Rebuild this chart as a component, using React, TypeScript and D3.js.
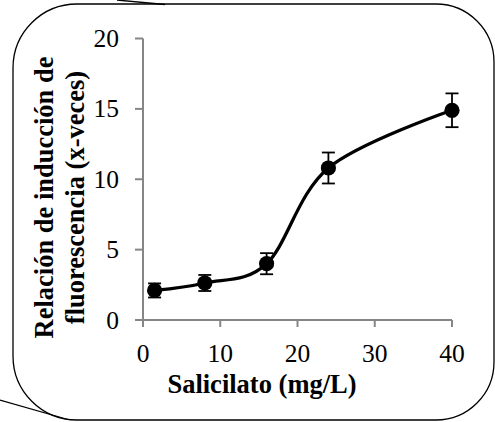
import React from "react";
import * as d3 from "d3";

const concentrations = [1.5, 8, 16, 24, 40];
const induction = [2.1, 2.63, 4.0, 10.8, 14.9];
const errors = [0.5, 0.57, 0.75, 1.1, 1.2];
const xTicks = [0, 10, 20, 30, 40];
const yTicks = [0, 5, 10, 15, 20];
const xTitle = "Salicilato (mg/L)";
const yTitleLines = ["Relación de inducción de", "fluorescencia (x-veces)"];

const W = 495;
const H = 422;

export default function App() {
  const x = d3.scaleLinear().domain([0, 40]).range([143, 452]);
  const y = d3.scaleLinear().domain([0, 20]).range([320, 38.5]);
  const pts = concentrations.map((c, i) => ({ c, v: induction[i], e: errors[i] }));
  const line = d3
    .line<{ c: number; v: number }>()
    .x((d) => x(d.c))
    .y((d) => y(d.v))
    .curve(d3.curveCatmullRom.alpha(0));

  const axisColor = "#868686";
  const font = "'Liberation Serif', 'Times New Roman', serif";

  // border path (rounded rect)
  const L = 13, T = 4, R = 494, B = 420;
  const rl = 64, rr = 58;
  const border = `M ${L + rl} ${T} L ${R - rr} ${T} A ${rr} ${rr} 0 0 1 ${R} ${T + rr} L ${R} ${B - rr} A ${rr} ${rr} 0 0 1 ${R - rr} ${B} L ${L + rl} ${B} A ${rl} ${rl} 0 0 1 ${L} ${B - rl} L ${L} ${T + rl} A ${rl} ${rl} 0 0 1 ${L + rl} ${T} Z`;

  return (
    <svg
      width={W}
      height={H}
      style={{ position: "absolute", left: 0, top: 0, background: "#fff" }}
    >
      <rect x={0} y={0} width={W} height={H} fill="#fff" />
      <path d={border} fill="none" stroke="#000" strokeWidth={1.3} />
      <line x1={117} y1={0} x2={165} y2={4.5} stroke="#000" strokeWidth={1.3} />
      <line x1={0} y1={400} x2={68} y2={419.5} stroke="#000" strokeWidth={1.3} />

      {/* axes */}
      <line x1={x(0)} y1={y(0)} x2={x(0)} y2={y(20)} stroke={axisColor} strokeWidth={2} />
      <line x1={x(0)} y1={y(0)} x2={x(40)} y2={y(0)} stroke={axisColor} strokeWidth={2} />
      {yTicks.map((t) => (
        <g key={"y" + t}>
          <line x1={x(0) - 8} x2={x(0)} y1={y(t)} y2={y(t)} stroke={axisColor} strokeWidth={2} />
          <text
            x={119}
            y={y(t) + 8.5}
            textAnchor="end"
            fontFamily={font}
            fontSize={25.5}
            fill="#000"
          >
            {t}
          </text>
        </g>
      ))}
      {xTicks.map((t) => (
        <g key={"x" + t}>
          <line x1={x(t)} x2={x(t)} y1={y(0)} y2={y(0) + 7} stroke={axisColor} strokeWidth={2} />
          <text
            x={x(t)}
            y={361.5}
            textAnchor="middle"
            fontFamily={font}
            fontSize={25.5}
            fill="#000"
          >
            {t}
          </text>
        </g>
      ))}

      {/* titles */}
      <text
        x={262}
        y={393}
        textAnchor="middle"
        fontFamily={font}
        fontSize={26.5}
        fontWeight="bold"
        fill="#000"
      >
        {xTitle}
      </text>
      {yTitleLines.map((s, i) => (
        <text
          key={s}
          transform={`translate(${53 + i * 30.5}, 197.5) rotate(-90)`}
          textAnchor="middle"
          fontFamily={font}
          fontSize={26.5}
          fontWeight="bold"
          fill="#000"
        >
          {s}
        </text>
      ))}

      {/* line */}
      <path d={line(pts) || ""} fill="none" stroke="#000" strokeWidth={3.3} />

      {/* error bars */}
      {pts.map((p, i) => (
        <g key={"e" + i} stroke="#000" strokeWidth={1.8}>
          <line x1={x(p.c)} x2={x(p.c)} y1={y(p.v - p.e)} y2={y(p.v + p.e)} />
          <line x1={x(p.c) - 6.5} x2={x(p.c) + 6.5} y1={y(p.v - p.e)} y2={y(p.v - p.e)} />
          <line x1={x(p.c) - 6.5} x2={x(p.c) + 6.5} y1={y(p.v + p.e)} y2={y(p.v + p.e)} />
        </g>
      ))}

      {/* markers */}
      {pts.map((p, i) => (
        <circle key={"m" + i} cx={x(p.c)} cy={y(p.v)} r={7.6} fill="#000" />
      ))}
    </svg>
  );
}
